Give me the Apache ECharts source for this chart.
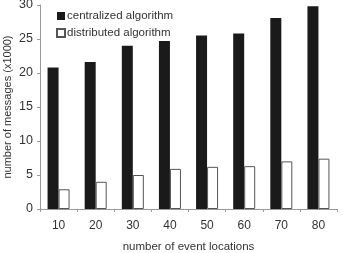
<!DOCTYPE html>
<html lang="en">
<head>
<meta charset="UTF-8">
<title>messages vs event locations</title>
<style>
  html, body { margin: 0; padding: 0; background: #fff; }
  #main { width: 345px; height: 253px; }
</style>
</head>
<body>
<div id="main"></div>
<script src="https://cdn.jsdelivr.net/npm/echarts@6/dist/echarts.min.js"></script>
<script>
var categories = ['10', '20', '30', '40', '50', '60', '70', '80'];
var centralized = [20.8, 21.6, 24.0, 24.7, 25.5, 25.8, 28.1, 29.8];
var distributed = [2.9, 4.0, 5.0, 5.9, 6.2, 6.3, 7.0, 7.4];

var chart = echarts.init(document.getElementById('main'));
var axisColor = '#999';
var textColor = '#333';
var font = 'Liberation Sans, Arial, sans-serif';

chart.setOption({
  animation: false,
  textStyle: { fontFamily: font },
  grid: { left: 40, top: 5, right: 8, bottom: 44, outerBoundsMode: 'none' },
  legend: {
    left: 56, top: 10,
    padding: 0,
    orient: 'vertical',
    itemWidth: 8, itemHeight: 8, itemGap: 5,
    textStyle: { color: textColor, fontSize: 11.5, fontFamily: font, padding: [0, 0, 0, -3] },
    data: [
      { name: 'centralized algorithm', icon: 'rect' },
      { name: 'distributed algorithm', icon: 'rect' }
    ]
  },
  xAxis: {
    type: 'category',
    data: categories,
    name: 'number of event locations',
    nameLocation: 'middle',
    nameGap: 32,
    nameTextStyle: { color: textColor, fontSize: 11.5 },
    axisLine: { lineStyle: { color: axisColor } },
    axisTick: { show: true, length: 3, lineStyle: { color: axisColor } },
    axisLabel: { color: textColor, fontSize: 12, margin: 11 }
  },
  yAxis: {
    type: 'value',
    min: 0, max: 30, interval: 5,
    name: 'number of messages (x1000)',
    nameLocation: 'middle',
    nameGap: 27,
    nameMoveOverlap: false,
    nameTextStyle: { color: textColor, fontSize: 11 },
    axisLine: { show: true, lineStyle: { color: axisColor } },
    axisTick: { show: true, length: 3, lineStyle: { color: axisColor } },
    axisLabel: { color: textColor, fontSize: 12.5, margin: 7 },
    splitLine: { show: false }
  },
  series: [
    {
      name: 'centralized algorithm',
      type: 'bar',
      data: centralized,
      barWidth: 11,
      barGap: '0%',
      itemStyle: { color: '#1a1a1a' }
    },
    {
      name: 'distributed algorithm',
      type: 'bar',
      data: distributed,
      barWidth: 11,
      barGap: '0%',
      itemStyle: { color: '#fff', borderColor: '#555', borderWidth: 1 }
    }
  ]
});
</script>
</body>
</html>
